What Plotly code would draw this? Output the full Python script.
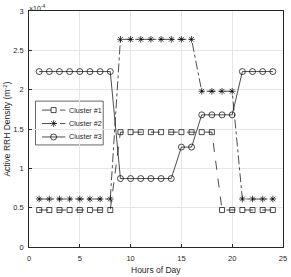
import plotly.graph_objects as go

hours = list(range(1, 25))
cluster1 = [0.47]*8 + [1.46]*10 + [0.47]*6
cluster2 = [0.61]*8 + [2.64]*8 + [1.98]*4 + [0.61]*4
cluster3 = [2.23]*8 + [0.87]*6 + [1.27]*2 + [1.68]*4 + [2.23]*4
names = ["Cluster #1", "Cluster #2", "Cluster #3"]
xticks = [0, 5, 10, 15, 20, 25]
yticks = [0, 0.5, 1, 1.5, 2, 2.5, 3]

FONT = "Liberation Sans, Arial, sans-serif"
ink = "#262626"

# plot area in figure pixels
L, R, T, B = 28.5, 283.5, 10.5, 247.5
W, H = 291, 277

fig = go.Figure()
styles = [("dash", "square-open", 5), ("dashdot", "asterisk-open", 5.5), ("solid", "circle-open", 6)]
for vals, name, (dash, sym, sz) in zip([cluster1, cluster2, cluster3], names, styles):
    fig.add_trace(go.Scatter(
        x=hours, y=vals, name=name, mode="lines+markers", showlegend=False,
        line=dict(color="black", width=0.7, dash=dash),
        marker=dict(symbol=sym, size=sz, color="black", line=dict(width=0.7, color="black")),
    ))

# compact MATLAB-style legend, drawn on an overlay axis measured in figure pixels
leg_rows = [110, 123.5, 137]
for (dash, sym, sz), name, ry in zip(styles, names, leg_rows):
    fig.add_trace(go.Scatter(
        x=[41.5, 65], y=[ry, ry], mode="lines", xaxis="x2", yaxis="y2", showlegend=False,
        line=dict(color="black", width=0.7, dash=dash), hoverinfo="skip"))
    fig.add_trace(go.Scatter(
        x=[53.2], y=[ry], mode="markers", xaxis="x2", yaxis="y2", showlegend=False,
        marker=dict(symbol=sym, size=sz, color="black", line=dict(width=0.7, color="black")),
        hoverinfo="skip"))
    fig.add_annotation(text=name, xref="x2", yref="y2", x=66.5, y=ry, xanchor="left",
                       yanchor="middle", showarrow=False,
                       font=dict(family=FONT, size=7.2, color=ink))
fig.add_shape(type="rect", xref="x2", yref="y2", x0=35, x1=103, y0=101, y1=145,
              line=dict(color=ink, width=0.7), fillcolor="rgba(255,255,255,0)", layer="below")

axis_common = dict(
    showline=True, mirror=True, linecolor=ink, linewidth=0.8,
    ticks="inside", ticklen=3, tickcolor=ink, tickwidth=0.8,
    showgrid=True, gridcolor="#e6e6e6", gridwidth=0.7,
    zeroline=False, automargin=False,
    tickfont=dict(family=FONT, size=7.5, color=ink),
)
fig.update_layout(
    xaxis=dict(range=[0, 25], tickvals=xticks, ticktext=[str(v) for v in xticks],
               ticklabelstandoff=4, **axis_common),
    yaxis=dict(range=[0, 3], tickvals=yticks, ticktext=[f"{v:g}" for v in yticks],
               ticklabelstandoff=3, **axis_common),
    xaxis2=dict(overlaying="x", range=[L, R], visible=False, fixedrange=True),
    yaxis2=dict(overlaying="y", range=[B, T], visible=False, fixedrange=True),
)

fig.add_annotation(text="Hours of Day", xref="paper", yref="paper", x=0.5,
                   y=(B - 270.5) / (B - T), xanchor="center", yanchor="middle",
                   showarrow=False, font=dict(family=FONT, size=8.5, color=ink))
fig.add_annotation(text="Active RRH Density (m<sup>-2</sup>)", xref="paper", yref="paper",
                   x=(6 - L) / (R - L), y=0.5, xanchor="center", yanchor="middle",
                   textangle=-90, showarrow=False, font=dict(family=FONT, size=8.5, color=ink))
fig.add_annotation(text="\u00d710<sup>-4</sup>", xref="paper", yref="paper", x=0, y=1,
                   xanchor="left", yanchor="bottom", showarrow=False,
                   font=dict(family=FONT, size=7, color=ink), yshift=-3, xshift=-2)

fig.update_layout(
    width=W, height=H,
    margin=dict(l=L, r=W - R, t=T, b=H - B, autoexpand=False),
    paper_bgcolor="white", plot_bgcolor="white",
    font=dict(family=FONT, size=8, color=ink),
    showlegend=False,
)

fig.write_html("out.html", config={"displayModeBar": False},
               post_script="document.body.style.margin='0';document.body.style.overflow='hidden';")
